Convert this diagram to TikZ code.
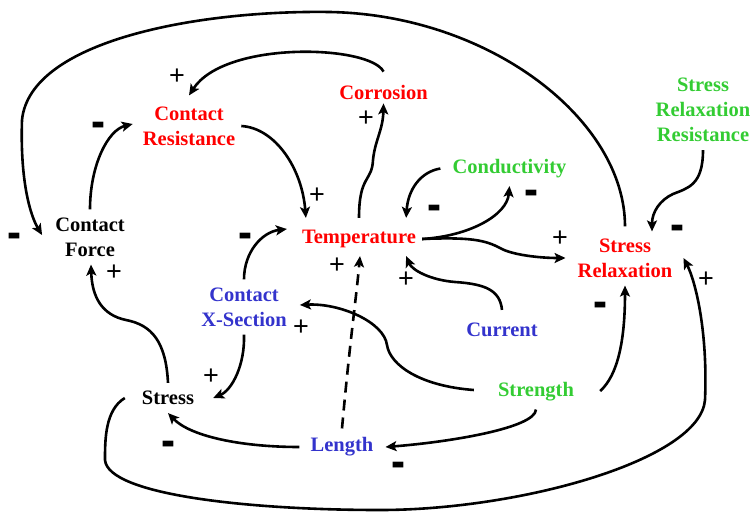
\documentclass[tikz,border=0pt]{standalone}
\usepackage{fontspec}
\setmainfont{Liberation Serif}
\newfontfamily\signfont{Liberation Sans}
\usetikzlibrary{arrows.meta}
\definecolor{loopred}{RGB}{255,0,0}
\definecolor{loopgreen}{RGB}{51,204,51}
\definecolor{loopblue}{RGB}{51,51,204}
\tikzset{
  var/.style={font=\bfseries\fontsize{20.5}{25}\selectfont, align=center, inner xsep=6pt, inner ysep=8pt},
  link/.style={line width=2.6pt, -{Stealth[length=11pt,width=10pt,inset=2.5pt]}},
  plussign/.style={font=\signfont\fontsize{27}{27}\selectfont, inner sep=0pt},
  minussign/.style={font=\signfont\bfseries\fontsize{30}{30}\selectfont, inner sep=0pt},
}
\begin{document}
\begin{tikzpicture}[x=1pt,y=-1pt]
      \useasboundingbox (0,0) rectangle (752,512);
      \node[var] (cforce) at (90,237) {Contact\\Force};
      \node[var, text=loopred] (cres) at (189,126) {Contact\\Resistance};
      \node[var, text=loopred] (corr) at (383.5,92) {Corrosion};
      \node[var, text=loopred] (temp) at (359,239) {Temperature};
      \node[var, text=loopgreen] (cond) at (509.5,168.5) {Conductivity};
      \node[var, text=loopgreen] (srr) at (703,110) {Stress\\Relaxation\\Resistance};
      \node[var, text=loopred] (srel) at (625,258) {Stress\\Relaxation};
      \node[var, text=loopblue] (cxs) at (244,307) {Contact\\X-Section};
      \node[var, text=loopblue] (curr) at (502,330) {Current};
      \node[var, text=loopgreen] (strength) at (536,392) {Strength};
      \node[var] (stress) at (168,398) {Stress};
      \node[var, text=loopblue] (len) at (342,447) {Length};
      % links
      \draw[link] (cforce.north) .. controls (90,165) and (108,130) .. ([xshift=-4pt,yshift=2pt]cres.west);
      \draw[link] (cres.east) .. controls (275,128) and (302,168) .. ([xshift=10pt,yshift=4pt]temp.north west);
      \draw[link] ([yshift=5pt]corr.north) .. controls (370,45) and (225,40) .. ([yshift=3pt]cres.north);
      \draw[link] ([yshift=4pt]temp.north) .. controls (359,175) and (372,182) .. (373,160)
        .. controls (375,140) and (383,130) .. ([yshift=4pt]corr.south);
      \draw[link] ([yshift=4pt]srel.north) .. controls (625,120) and (490,15) .. (330,12)
        .. controls (200,10) and (30,40) .. (22,120)
        .. controls (20,180) and (30,215) .. ([xshift=-7pt,yshift=2pt]cforce.west);
      \draw[link] (cxs.north) .. controls (244,252) and (262,232) .. ([xshift=-9pt,yshift=10pt]temp.west);
      \draw[link] ([xshift=-6pt]cond.west) .. controls (420,172) and (408,190) .. ([xshift=-16pt,yshift=4pt]temp.north east);
      \draw[link] (temp.east) .. controls (470,236) and (507,215) .. (cond.south);
      \draw[link] (temp.east) .. controls (470,237) and (485,240) .. (500,248)
        .. controls (512,255) and (540,258) .. ([xshift=-6pt]srel.west);
      \draw[link] (srr.south) .. controls (703,185) and (688,188) .. (673,194)
        .. controls (660,200) and (652,212) .. ([xshift=27pt,yshift=-1pt]srel.north);
      \draw[link] ([yshift=5pt]curr.north) .. controls (500,290) and (485,284) .. (455,282)
        .. controls (430,280) and (412,270) .. ([xshift=-16pt]temp.south east);
      \draw[link] ([xshift=-18pt,yshift=2pt]strength.west) .. controls (420,386) and (390,365) .. (387,345)
        .. controls (384,322) and (340,303) .. ([xshift=7pt,yshift=2pt]cxs.east);
      \draw[link] ([xshift=20pt,yshift=1pt]strength.east) .. controls (618,375) and (625,340) .. (srel.south);
      \draw[link] (strength.south) .. controls (535,428) and (450,442) .. ([xshift=6pt]len.east);
      \draw[link, dash pattern=on 11pt off 7pt] ([yshift=1pt]len.north) .. controls (350,340) and (356,300) .. ([xshift=1pt]temp.south);
      \draw[link] ([xshift=-5pt]len.west) .. controls (240,447) and (190,436) .. (stress.south);
      \draw[link] (cxs.south) .. controls (245,365) and (232,390) .. ([xshift=13pt]stress.east);
      \draw[link] (stress.north) .. controls (166,342) and (152,325) .. (126,320)
        .. controls (102,315) and (92,297) .. ([xshift=1pt]cforce.south);
      \draw[link] ([xshift=-11pt]stress.west) .. controls (105,410) and (105,440) .. (105,460)
        .. controls (108,495) and (250,510) .. (380,510)
        .. controls (520,510) and (700,460) .. (705,400)
        .. controls (708,330) and (695,280) .. ([xshift=5pt]srel.east);
      % signs
      \foreach \x/\y [count=\i] in {317/196, 177/77, 366/119, 560/239, 406/280, 301/328, 337/266, 211/377, 114/273, 706/280} {
        \node[plussign] (p\i) at (\x,\y) {+};
      }
      \foreach \x/\y [count=\i] in {98/130, 14/241, 245/241, 434/213, 531/198, 677/233, 600/310, 398/470, 168/449} {
        \node[minussign] (m\i) at (\x,\y) {\scalebox{1.4}[1.6]{-}};
      }
    \end{tikzpicture}
\end{document}
